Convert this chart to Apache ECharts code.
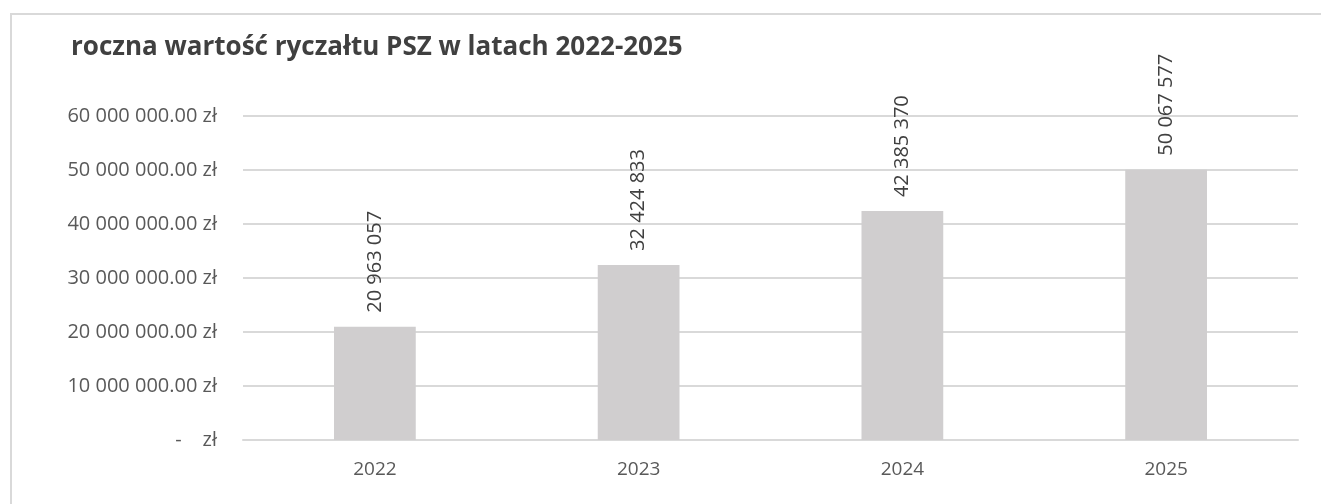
<!DOCTYPE html>
<html>
<head>
<meta charset="utf-8">
<script src="https://cdn.jsdelivr.net/npm/echarts@6/dist/echarts.min.js"></script>
<style>
  html, body { margin: 0; padding: 0; background: #fff; }
  #frame { position: absolute; left: 10px; top: 13px; width: 1320px; height: 500px;
           border: 2px solid #d9d9d9; box-sizing: border-box; }
  #chart { position: absolute; left: 0; top: 0; width: 1321px; height: 504px; }
</style>
</head>
<body>
<div id="frame"></div>
<div id="chart"></div>
<script>
const titleText = 'roczna wartość ryczałtu PSZ w latach 2022-2025';
const years = ['2022', '2023', '2024', '2025'];
const values = [20963057, 32424833, 42385370, 50067577];

const fontFamily = '"Open Sans", "Noto Sans", sans-serif';

function spaced(n) {
    return String(Math.round(n)).replace(/\B(?=(\d{3})+(?!\d))/g, ' ');
}

function yLabel(v) {
    if (v === 0) return '-    zł';
    return spaced(v) + '.00 zł';
}

const myChart = echarts.init(document.getElementById('chart'));

myChart.setOption({
    animation: false,
    title: {
        text: titleText,
        left: 66,
        top: 30,
        textStyle: { color: '#404040', fontSize: 26, fontWeight: 'bold', fontFamily: fontFamily }
    },
    grid: { left: 243, right: 23, top: 116, bottom: 64 },
    xAxis: {
        type: 'category',
        data: years,
        axisLine: { lineStyle: { color: '#d9d9d9', width: 2 } },
        axisTick: { show: false },
        axisLabel: { color: '#595959', fontSize: 19, fontFamily: fontFamily, margin: 20 }
    },
    yAxis: {
        type: 'value',
        min: 0,
        max: 60000000,
        interval: 10000000,
        axisLine: { show: false },
        axisTick: { show: false },
        splitLine: { lineStyle: { color: '#d9d9d9', width: 2 } },
        axisLabel: { color: '#595959', fontSize: 20, fontFamily: fontFamily, margin: 26, formatter: yLabel }
    },
    series: [{
        type: 'bar',
        data: values,
        barWidth: '31%',
        itemStyle: { color: '#d0cecf' },
        label: {
            show: true,
            position: 'top',
            rotate: 90,
            align: 'left',
            verticalAlign: 'middle',
            distance: 14,
            color: '#404040',
            fontSize: 20,
            fontFamily: fontFamily,
            formatter: p => spaced(p.value)
        }
    }]
});
</script>
</body>
</html>
